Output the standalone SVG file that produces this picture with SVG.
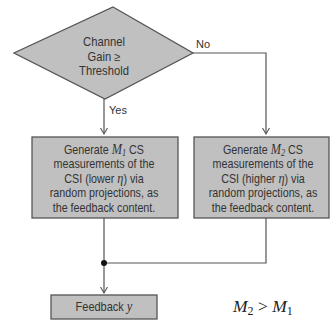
<svg xmlns="http://www.w3.org/2000/svg" width="331" height="320" viewBox="0 0 331 320">
<style>
.shape{fill:#c0c0c0;stroke:#555;stroke-width:1.3}
.conn{fill:none;stroke:#555;stroke-width:1.2}
.t{font-family:"Liberation Sans",Arial,sans-serif;font-size:11.5px;fill:#333;text-anchor:middle}
.b{font-size:12.2px}
.m{font-family:"Liberation Serif","Times New Roman",serif;font-style:italic}
.lbl{font-family:"Liberation Sans",Arial,sans-serif;font-size:11px;fill:#333}
</style>
<defs>
<marker id="arr" markerUnits="userSpaceOnUse" markerWidth="12" markerHeight="12" viewBox="-6 -6 12 12" refX="0" refY="0" orient="auto">
<path d="M-6,-3.5 L0,0 L-6,3.5" fill="none" stroke="#555" stroke-width="1.1"/>
</marker>
</defs>
<rect width="331" height="320" fill="#fff"/>
<g id="connectors">
<path class="conn" d="M104,99 V134" marker-end="url(#arr)"/>
<path class="conn" d="M193,53 H266 V134" marker-end="url(#arr)"/>
<path class="conn" d="M104,218 V263"/>
<path class="conn" d="M266,218 V263 H104"/>
<path class="conn" d="M104,263 V293" marker-end="url(#arr)"/>
<circle cx="104" cy="263" r="3" fill="#111"/>
<text class="lbl" x="196" y="48">No</text>
<text class="lbl" x="109" y="114">Yes</text>
</g>
<g id="decision">
<polygon class="shape" points="113,7 193,53 105,99 14,53"/>
<text class="t b" x="104" y="46" transform="matrix(0.92 0 0 1 8.32 0)">Channel</text>
<text class="t b" x="104" y="61" transform="matrix(0.92 0 0 1 8.32 0)">Gain  ≥</text>
<text class="t b" x="104" y="75" transform="matrix(0.92 0 0 1 8.32 0)">Threshold</text>
</g>
<g id="box-m1">
<rect class="shape" x="32" y="137" width="146" height="81"/>
<g transform="matrix(0.88 0 0 1 12.48 0)">
<text class="t b" x="104" y="154">Generate <tspan class="m" font-size="14">M</tspan><tspan class="m" font-size="9.5" dy="2" font-style="normal">1</tspan><tspan dy="-2"> CS</tspan></text>
<text class="t b" x="104" y="168.5">measurements  of the</text>
<text class="t b" x="104" y="183">CSI (lower <tspan class="m" font-size="14">η</tspan>) via</text>
<text class="t b" x="104" y="197.5">random projections, as</text>
<text class="t b" x="104" y="212">the feedback content.</text>
</g>
</g>
<g id="box-m2">
<rect class="shape" x="194" y="137" width="135" height="81"/>
<g transform="matrix(0.88 0 0 1 31.56 0)">
<text class="t b" x="263" y="154">Generate <tspan class="m" font-size="14">M</tspan><tspan class="m" font-size="9.5" dy="2" font-style="normal">2</tspan><tspan dy="-2"> CS</tspan></text>
<text class="t b" x="263" y="168.5">measurements  of the</text>
<text class="t b" x="263" y="183">CSI (higher <tspan class="m" font-size="14">η</tspan>) via</text>
<text class="t b" x="263" y="197.5">random projections, as</text>
<text class="t b" x="263" y="212">the feedback content.</text>
</g>
</g>
<g id="feedback">
<rect class="shape" x="51" y="295" width="106" height="24"/>
<text class="t b" x="104" y="311" transform="matrix(0.9 0 0 1 10.4 0)">Feedback <tspan class="m" font-size="14">y</tspan></text>
</g>
<g id="relation">
<text x="233" y="312" font-family="'Liberation Serif','Times New Roman',serif" font-size="17.5" fill="#222"><tspan font-style="italic">M</tspan><tspan font-size="12" dy="3">2</tspan><tspan dy="-3"> &gt; </tspan><tspan font-style="italic">M</tspan><tspan font-size="12" dy="3">1</tspan></text>
</g>
</svg>
